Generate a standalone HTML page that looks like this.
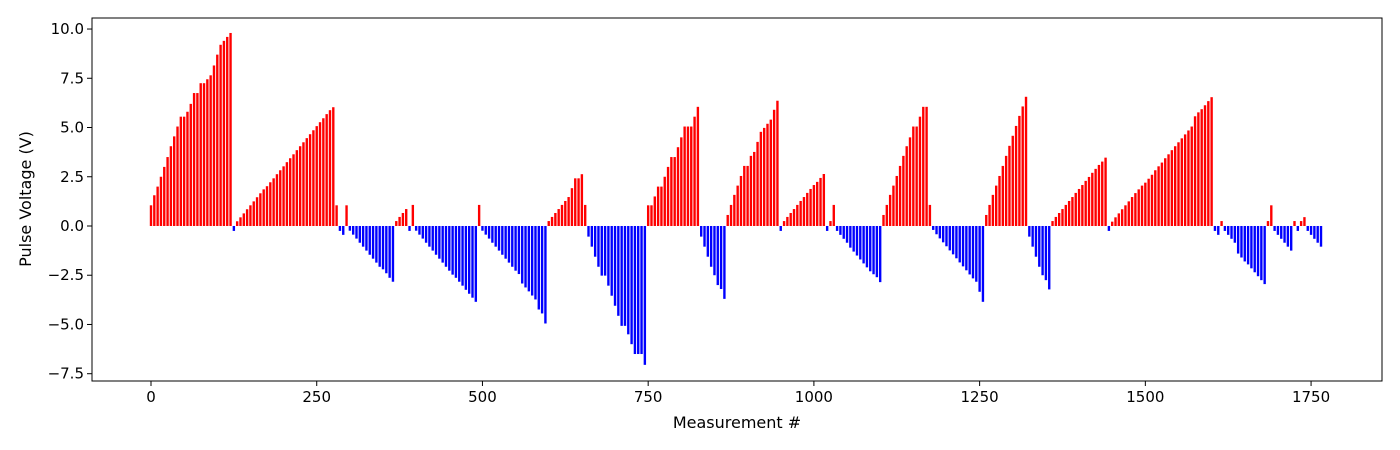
<!DOCTYPE html>
<html><head><meta charset="utf-8"><style>
body{margin:0;background:#fff;}
svg{display:block;font-family:"DejaVu Sans","Liberation Sans",sans-serif;}
</style></head><body>
<svg id="chart" width="1400" height="450"></svg>
<script>
const valuesA = [1.05,1.56,2.0,2.5,3.0,3.5,4.05,4.55,5.05,5.55,5.55,5.8,6.2,6.75,6.75,7.25,7.25,7.45,7.65,8.15,8.7,9.2,9.4,9.6,9.8,-0.25,
0.24,0.44,0.64,0.85,1.05,1.25,1.46,1.66,1.86,2.02,2.22,2.42,2.63,2.83,3.03,3.24,3.44,3.64,3.85,4.05,4.25,4.46,4.66,4.86,5.07,5.27,5.47,5.68,5.88,6.03,
1.05,-0.25,-0.45,1.05,
-0.24,-0.44,-0.64,-0.85,-1.05,-1.25,-1.46,-1.66,-1.86,-2.07,-2.2,-2.4,-2.63,-2.83,
0.25,0.46,0.66,0.86,-0.25,1.07,
-0.24,-0.44,-0.64,-0.85,-1.05,-1.25,-1.46,-1.66,-1.86,-2.07,-2.27,-2.47,-2.63,-2.83,-3.03,-3.24,-3.44,-3.64,-3.85,1.07];
const valuesB = [-0.24,-0.44,-0.64,-0.85,-1.05,-1.25,-1.46,-1.66,-1.86,-2.07,-2.27,-2.44,-2.92,-3.12,-3.32,-3.53,-3.73,-4.24,-4.44,-4.95,
0.25,0.46,0.66,0.86,1.07,1.27,1.47,1.92,2.42,2.42,2.63,1.07,
-0.54,-1.05,-1.56,-2.07,-2.52,-2.52,-3.03,-3.54,-4.05,-4.56,-5.07,-5.07,-5.5,-6.0,-6.5,-6.5,-6.5,-7.05,
1.05,1.05,1.5,2.0,2.0,2.5,3.0,3.5,3.5,4.0,4.5,5.05,5.05,5.05,5.55,6.05,
-0.54,-1.05,-1.56,-2.07,-2.5,-3.0,-3.2,-3.7,
0.56,1.07,1.58,2.05,2.54,3.05,3.05,3.56,3.76,4.27,4.78,4.98,5.19,5.4,5.9,6.36,-0.25,
0.25,0.46,0.66,0.86,1.07,1.27,1.47,1.68,1.88,2.08,2.24,2.44,2.64,-0.25,0.25,1.07,
-0.25,-0.45,-0.65,-0.85,-1.1,-1.3,-1.5,-1.7,-1.9,-2.1,-2.3,-2.45,-2.6,-2.85];
const valuesC = [0.56,1.07,1.58,2.05,2.54,3.05,3.56,4.05,4.5,5.05,5.05,5.55,6.05,6.05,1.07,
-0.2,-0.42,-0.63,-0.83,-1.03,-1.24,-1.44,-1.64,-1.85,-2.05,-2.25,-2.46,-2.66,-2.83,-3.34,-3.85,
0.56,1.07,1.58,2.05,2.54,3.05,3.56,4.07,4.58,5.08,5.59,6.07,6.56,
-0.54,-1.05,-1.56,-2.07,-2.5,-2.75,-3.22,
0.25,0.46,0.66,0.86,1.07,1.27,1.47,1.68,1.88,2.08,2.29,2.49,2.7,2.9,3.1,3.27,3.47,-0.25,
0.22,0.44,0.64,0.85,1.05,1.25,1.47,1.67,1.86,2.05,2.2,2.4,2.6,2.83,3.03,3.22,3.44,3.64,3.85,4.05,4.25,4.45,4.65,4.85,5.05,5.57,5.77,5.93,6.13,6.34,6.54,
-0.25,-0.45,0.25,-0.25,-0.45,-0.65,-0.85,-1.4,-1.6,-1.8,-1.95,-2.15,-2.35,-2.55,-2.75,-2.95,0.25,1.05,
-0.25,-0.45,-0.65,-0.85,-1.05,-1.25,0.25,-0.25,0.25,0.45,-0.25,-0.45,-0.65,-0.85,-1.05];
const measurementStep = 5;
const xTicks = [0,250,500,750,1000,1250,1500,1750];
const xTickLabels = ["0","250","500","750","1000","1250","1500","1750"];
const yTicks = [10,7.5,5,2.5,0,-2.5,-5,-7.5];
const yTickLabels = ["10.0","7.5","5.0","2.5","0.0","−2.5","−5.0","−7.5"];

const values = valuesA.concat(valuesB, valuesC);
const measurements = values.map((v,i)=>i*measurementStep);
const L=92,T=18,R=1382,B=381;
const xMin=-89,xMax=1857,yMin=-7.87,yMax=10.56;
const xs=m=>L+(m-xMin)/(xMax-xMin)*(R-L);
const ys=v=>T+(yMax-v)/(yMax-yMin)*(B-T);
const NS="http://www.w3.org/2000/svg";
const svg=document.getElementById('chart');
function mk(tag,attrs,parent){const e=document.createElementNS(NS,tag);for(const k in attrs)e.setAttribute(k,attrs[k]);(parent||svg).appendChild(e);return e;}
const bars=mk('g',{});


const bw=3.6;
values.forEach((v,i)=>{
  const x0=xs(measurements[i]-bw/2), x1=xs(measurements[i]+bw/2);
  const y0=ys(Math.max(v,0)), y1=ys(Math.min(v,0));
  const r=mk('rect',{x:x0,y:y0,width:x1-x0,height:Math.max(y1-y0,0.5),fill:v>=0?'#ff0000':'#0000ff'},bars);
  
  
});
const frame=mk('rect',{x:L,y:T,width:R-L,height:B-T,fill:'none',stroke:'#000','stroke-width':1});


xTicks.forEach((t,i)=>{
  const x=xs(t);
  const ln=mk('line',{x1:x,x2:x,y1:B,y2:B+5,stroke:'#000'});
  
  
  const tx=mk('text',{x:x,y:B+21,'font-size':15,'text-anchor':'middle',fill:'#000'});
  tx.textContent=xTickLabels[i];
  
  
});
yTicks.forEach((t,i)=>{
  const y=ys(t);
  const ln=mk('line',{x1:L-5,x2:L,y1:y,y2:y,stroke:'#000'});
  
  
  const tx=mk('text',{x:L-8,y:y+5,'font-size':15,'text-anchor':'end',fill:'#000'});
  tx.textContent=yTickLabels[i];
  
  
});
const xl=mk('text',{x:(L+R)/2,y:428,'font-size':16,'text-anchor':'middle',fill:'#000'});
xl.textContent='Measurement #';


const yl=mk('text',{x:0,y:0,'font-size':16,'text-anchor':'middle',fill:'#000',transform:'translate(31,199) rotate(-90)'});
yl.textContent='Pulse Voltage (V)';


</script>
</body></html>
